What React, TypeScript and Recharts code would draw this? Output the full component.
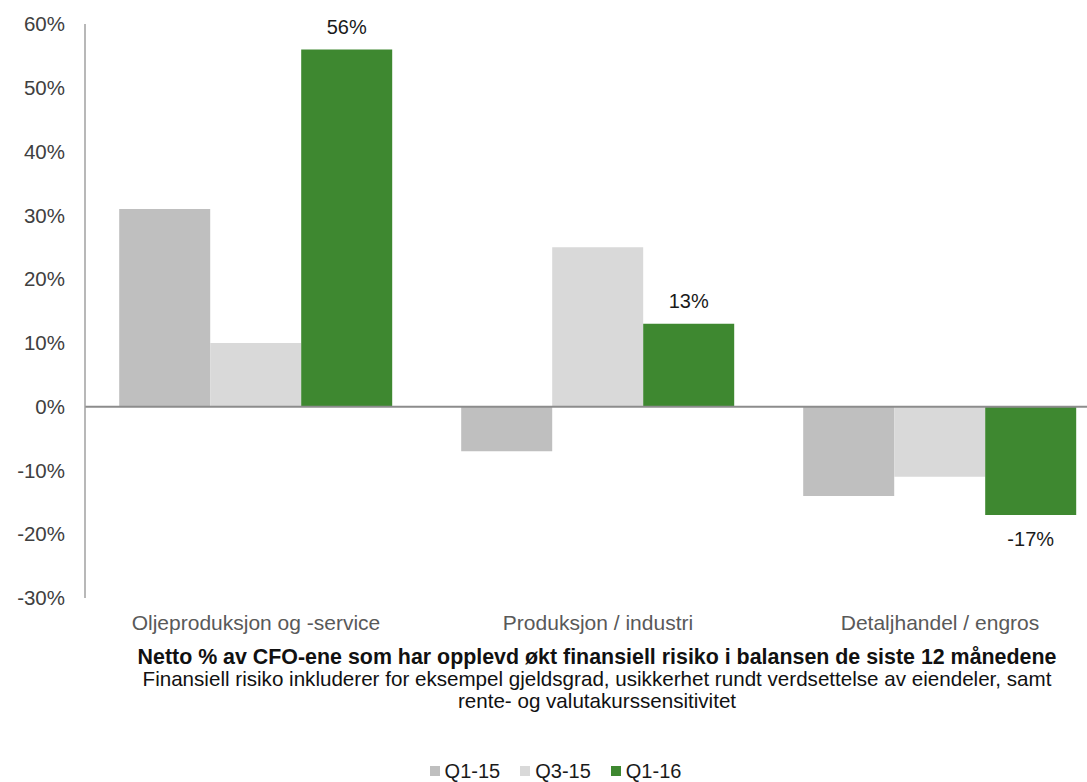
import { BarChart, Bar, XAxis, YAxis, ReferenceLine, Legend, LabelList } from "recharts";

const categories = ["Oljeproduksjon og -service", "Produksjon / industri", "Detaljhandel / engros"];
const q115 = [31, -7, -14];
const q315 = [10, 25, -11];
const q116 = [56, 13, -17];
const yTicks = [-30, -20, -10, 0, 10, 20, 30, 40, 50, 60];

const series = [
  { key: "q115", name: "Q1-15", color: "#bfbfbf" },
  { key: "q315", name: "Q3-15", color: "#d9d9d9" },
  { key: "q116", name: "Q1-16", color: "#3e8830" },
];

const data = categories.map((c, i) => ({ cat: c, q115: q115[i], q315: q315[i], q116: q116[i] }));

const FONT = '"Liberation Sans", Arial, sans-serif';

function ValueLabel(props: any) {
  const { x, y, width, height, value } = props;
  const top = Math.min(y, y + height);
  const bottom = Math.max(y, y + height);
  const ty = value >= 0 ? top - 16 : bottom + 31;
  return (
    <text x={x + width / 2} y={ty} textAnchor="middle" fill="#1a1a1a" fontSize={20} fontFamily={FONT}>
      {`${value}%`}
    </text>
  );
}

function LegendBox() {
  return (
    <div style={{ display: "flex", justifyContent: "center", alignItems: "center", height: 22, fontFamily: FONT, fontSize: 20, color: "#1a1a1a" }}>
      {series.map((s, i) => (
        <span key={s.key} style={{ display: "inline-flex", alignItems: "center", marginRight: i < series.length - 1 ? 20 : 0 }}>
          <span style={{ width: 10, height: 10, background: s.color, marginRight: 5, display: "inline-block" }} />
          {s.name}
        </span>
      ))}
    </div>
  );
}

export default function App() {
  return (
    <div style={{ position: "absolute", left: 0, top: 0, width: 1087, height: 782, overflow: "hidden", background: "#fff" }}>
      <BarChart
        width={1111}
        height={782}
        data={data}
        margin={{ top: 24, right: 0, bottom: 0, left: 0 }}
        barCategoryGap="10%"
        barGap={0}
      >
        <YAxis
          width={85}
          domain={[-30, 60]}
          ticks={yTicks}
          interval={0}
          tickFormatter={(v: number) => `${v}%`}
          tickLine={false}
          tickSize={0}
          tickMargin={20}
          axisLine={{ stroke: "#a0a0a0", strokeWidth: 1.5 }}
          tick={{ fill: "#404040", fontSize: 20.5, fontFamily: FONT }}
        />
        <XAxis
          dataKey="cat"
          height={162}
          axisLine={false}
          tickLine={false}
          tickSize={0}
          tickMargin={17}
          interval={0}
          tick={{ fill: "#595959", fontSize: 21, fontFamily: FONT }}
        />
        {series.map((s) => (
          <Bar key={s.key} dataKey={s.key} name={s.name} fill={s.color} isAnimationActive={false}>
            {s.key === "q116" && <LabelList dataKey="q116" content={<ValueLabel />} />}
          </Bar>
        ))}
        <ReferenceLine y={0} stroke="#8c8c8c" strokeWidth={2} />
        <Legend verticalAlign="bottom" align="center" wrapperStyle={{ height: 22 }} content={<LegendBox />} />
      </BarChart>
      <div
        style={{
          position: "absolute",
          left: 47,
          width: 1100,
          top: 646,
          textAlign: "center",
          fontFamily: FONT,
          fontSize: 20.6,
          lineHeight: "22px",
          color: "#111",
        }}
      >
        <div style={{ fontWeight: "bold", fontSize: 21.4 }}>
          Netto % av CFO-ene som har opplevd økt finansiell risiko i balansen de siste 12 månedene
        </div>
        <div>Finansiell risiko inkluderer for eksempel gjeldsgrad, usikkerhet rundt verdsettelse av eiendeler, samt</div>
        <div>rente- og valutakurssensitivitet</div>
      </div>
    </div>
  );
}
